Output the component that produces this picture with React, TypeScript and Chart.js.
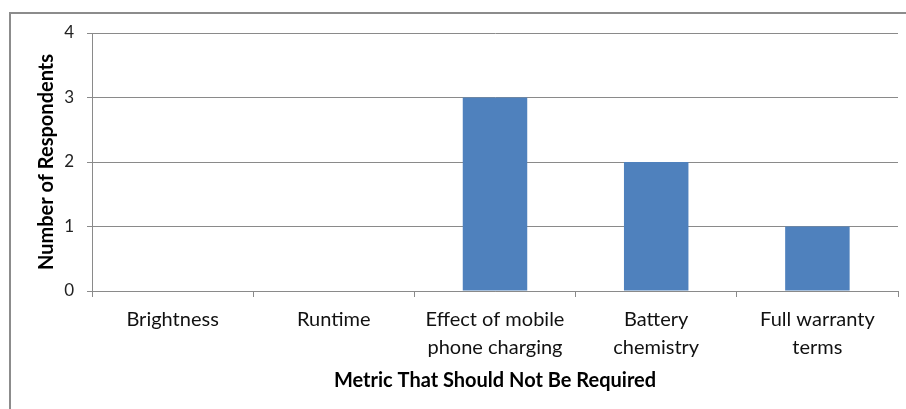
import React, { useEffect, useRef } from "react";
import { Chart, registerables } from "chart.js";

Chart.register(...registerables);

// Survey results: which metric respondents felt should not be required
const categories: string[][] = [
  ["Brightness"],
  ["Runtime"],
  ["Effect of mobile", "phone charging"],
  ["Battery", "chemistry"],
  ["Full warranty", "terms"],
];
const respondents: number[] = [0, 0, 3, 2, 1];
const yTicks: number[] = [0, 1, 2, 3, 4];

const xTitle = "Metric That Should Not Be Required";
const yTitle = "Number of Respondents";

const FONT = "Lato, 'Open Sans', 'DejaVu Sans', sans-serif";
const GRID = "#8a8a8a";

export default function App() {
  const canvasRef = useRef<HTMLCanvasElement | null>(null);

  useEffect(() => {
    const canvas = canvasRef.current;
    if (!canvas) return;
    const chart = new Chart(canvas, {
      type: "bar",
      data: {
        labels: categories,
        datasets: [
          {
            data: respondents,
            backgroundColor: "#4F81BD",
            borderWidth: 0,
            barPercentage: 0.4,
            categoryPercentage: 1,
          },
        ],
      },
      options: {
        animation: false,
        responsive: false,
        maintainAspectRatio: false,
        layout: { padding: { left: 0, top: 33, right: 8, bottom: 0 } },
        plugins: {
          legend: { display: false },
          tooltip: { enabled: false },
        },
        scales: {
          x: {
            grid: {
              display: true,
              drawOnChartArea: false,
              drawTicks: true,
              tickLength: 6,
              color: GRID,
              offset: true,
            },
            border: { display: true, color: GRID, width: 1 },
            ticks: {
              color: "#111",
              font: { family: FONT, size: 20, lineHeight: "28px" },
              padding: 9,
              maxRotation: 0,
              autoSkip: false,
            },
            title: {
              display: true,
              text: xTitle,
              color: "#000",
              font: { family: FONT, size: 20, weight: "bold", lineHeight: 1.2 },
              padding: { top: 0, bottom: 16 },
            },
            afterFit: (scale: any) => {
              scale.height = 118;
            },
          },
          y: {
            min: 0,
            max: 4,
            afterBuildTicks: (scale: any) => {
              scale.ticks = yTicks.map((v) => ({ value: v }));
            },
            grid: {
              color: GRID,
              drawTicks: true,
              tickLength: 5,
            },
            border: { display: true, color: GRID, width: 1 },
            ticks: {
              color: "#222",
              font: { family: FONT, size: 17 },
              padding: 13,
            },
            title: {
              display: true,
              text: yTitle,
              color: "#000",
              font: { family: FONT, size: 20, weight: "bold", lineHeight: 1.2 },
              padding: { top: 35, bottom: 0 },
            },
            afterFit: (scale: any) => {
              scale.width = 92;
            },
          },
        },
      },
    });
    return () => chart.destroy();
  }, []);

  return (
    <div
      style={{
        position: "fixed",
        left: 0,
        top: 0,
        width: 906,
        height: 409,
        background: "#fff",
        overflow: "hidden",
      }}
    >
      <div
        style={{
          position: "absolute",
          left: 9,
          top: 12,
          width: 1000,
          height: 500,
          borderLeft: "2px solid #8c8c8c",
          borderTop: "2px solid #8c8c8c",
        }}
      />
      <canvas
        ref={canvasRef}
        width={906}
        height={409}
        style={{ position: "absolute", left: 0, top: 0, width: 906, height: 409 }}
      />
    </div>
  );
}
